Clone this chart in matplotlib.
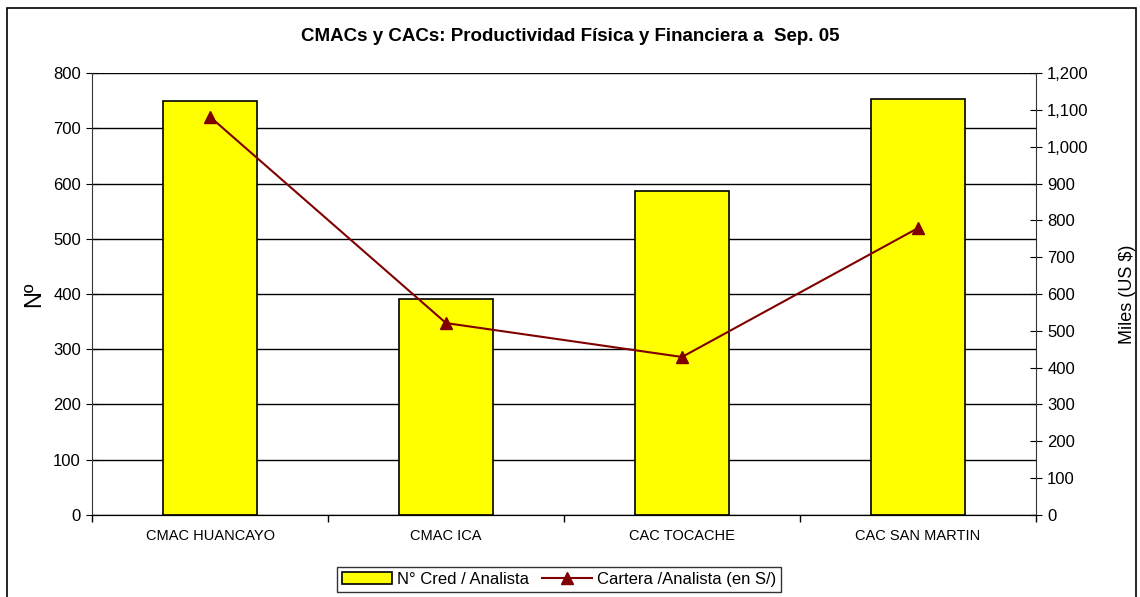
import numpy as np
import matplotlib.pyplot as plt
from matplotlib.lines import Line2D
from matplotlib.patches import Rectangle
from matplotlib.ticker import FuncFormatter, MultipleLocator

plt.rcParams['font.family'] = ['Liberation Sans', 'DejaVu Sans']

entidades = ['CMAC HUANCAYO', 'CMAC ICA', 'CAC TOCACHE', 'CAC SAN MARTIN']
cred_analista = [750, 391, 586, 753]
cartera_analista = [1081, 521, 429, 779]

fig = plt.figure(figsize=(11.4, 5.97), dpi=100)
ax = fig.add_axes([0.0807, 0.1374, 0.8281, 0.7403])
ax2 = ax.twinx()

x = np.arange(len(entidades))
ax.bar(x, cred_analista, width=0.4, color='#FFFF00', edgecolor='black', linewidth=1.2, zorder=3)
ax.set_xlim(-0.5, len(entidades) - 0.5)
ax.set_ylim(0, 800)
ax.yaxis.set_major_locator(MultipleLocator(100))
ax.grid(axis='y', color='black', linewidth=1, zorder=0)
ax.set_axisbelow(True)

ax2.plot(x, cartera_analista, color='#800000', linewidth=1.5, marker='^', markersize=8, zorder=4)
ax2.set_ylim(0, 1200)
ax2.yaxis.set_major_locator(MultipleLocator(100))
ax2.yaxis.set_major_formatter(FuncFormatter(lambda v, p: f'{int(v):,}'))

# categories between boundary ticks
ax.set_xticks(x)
ax.set_xticklabels(entidades, fontsize=10.5)
ax.tick_params(axis='x', length=0, pad=10)
ax.set_xticks(np.arange(-0.5, len(entidades)), minor=True)
ax.tick_params(axis='x', which='minor', length=5, width=1)

ax.tick_params(axis='y', direction='inout', length=8, labelsize=12, pad=4)
ax2.tick_params(axis='y', direction='inout', length=8, labelsize=12, pad=4)

for a in (ax, ax2):
    a.spines['top'].set_visible(False)
    a.spines['left'].set_color('#333333')
    a.spines['right'].set_color('#333333')
ax2.spines['left'].set_visible(False)
ax.spines['right'].set_visible(False)

ax.set_ylabel('Nº', fontsize=17, labelpad=6)
ax2.set_ylabel('Miles (US $)', fontsize=13, labelpad=22)

fig.suptitle('CMACs y CACs: Productividad Física y Financiera a  Sep. 05',
             fontsize=13.5, fontweight='bold', y=0.953)

handles = [Rectangle((0, 0), 1, 1, facecolor='#FFFF00', edgecolor='black', linewidth=1.2),
           Line2D([], [], color='#800000', linewidth=1.5, marker='^', markersize=8)]
leg = fig.legend(handles, ['N° Cred / Analista', 'Cartera /Analista (en S/)'],
                 loc='center', bbox_to_anchor=(0.4905, 0.03), ncol=2, fontsize=12,
                 frameon=True, fancybox=False, edgecolor='black', handlelength=3,
                 handletextpad=0.3, columnspacing=0.8, borderpad=0.3)
leg.get_frame().set_linewidth(1)

fig.add_artist(Rectangle((0.0061, -0.05), 0.9904, 1.0366, transform=fig.transFigure,
                         fill=False, edgecolor='black', linewidth=1.2))

fig.savefig('out.png', dpi=100)
